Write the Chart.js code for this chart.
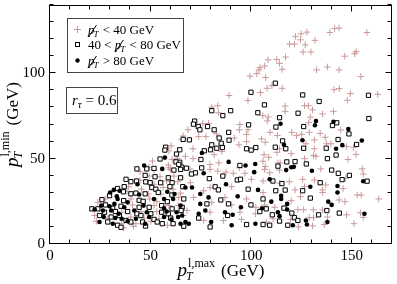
<!DOCTYPE html>
<html><head><meta charset="utf-8">
<script src="https://cdn.jsdelivr.net/npm/chart.js@4/dist/chart.umd.min.js"></script>
<style>html,body{margin:0;padding:0;background:#fff;}</style>
</head><body>
<canvas id="c" width="397" height="284"></canvas>
<script>
// missing pT < 40 GeV (pink crosses): [pT max, pT min]
const lowMet = [
[108.4,107.9],[112.7,108.1],[114.1,105.8],[115.4,102.3],[104.4,103.3],[103.8,102],[106.7,104.3],[102.8,99.8],[99.4,98.3],[107.2,97.5],
[110.3,92.7],[107.9,91.2],[115.4,91.2],[104.6,88.7],[89,87],[98.4,84.1],[122,121.6],[124.8,123.1],[127.7,124.1],[124.5,119.6],
[119.1,117.1],[121.5,117.1],[126.9,116.6],[131.7,119.3],[139.1,123.9],[141.5,126.2],[143.7,126.5],[157.5,123.9],[125.8,112.5],[129.7,112.5],
[117.1,109.5],[146.5,110],[151.4,111.5],[152.2,112.7],[137.9,103.7],[132.5,102],[143.7,102],[154.5,98.1],[141.2,90.4],[143.8,91],
[149.3,88.1],[162.9,87.7],[147.8,84.2],
[83.4,81],[80.4,80.2],[83.7,76.9],[105.8,75.2],[108.5,74.4],[108,72.1],[68.6,66.9],[76,70.6],[78.8,70.6],[82.8,64.5],[94.4,70],
[98.4,66.9],[94.1,66.9],[109.4,65.4],[113,63.6],[73.9,62.9],[77.5,62.9],[97.7,64.2],[97.7,60],[105.1,61.6],[91.6,62.1],
[93.9,58.1],[71.1,55.8],[107,59.6],[71.1,50],[67.3,51.4],[81.6,52.3],[85.4,54.2],[106.4,52.3],[108.7,50.8],[112.8,53.7],
[83.9,47.5],[79.5,46.6],[105.9,48.5],[107,45.4],[113.3,47.5],[69.6,44],
[126.5,81],[128.4,81],[116.9,80.8],[116.9,77.7],[130.5,78.6],[135.5,76.2],[140.9,77.7],[129.4,74.3],[128.6,71.1],[144.5,66.8],
[120.2,65.4],[122.5,63.5],[125.1,64.2],[128.9,65.4],[134.3,64.8],[136.8,62.5],[150.9,56.7],[147.3,57.1],[114.1,55.8],[131.4,61],
[127.2,58.7],[137.4,58.7],[139.6,58.7],[131.4,55.8],[132.2,51.4],[131,51.9],[152.1,52.5],[119.9,52.9],[148.1,49.5],[126.5,50],
[114.4,47.5],[134.6,44],[155.2,44],
[114.1,43.3],[155.7,41],[147,38.5],[119,36.5],[125.6,37.9],[131.4,37.5],[137.1,34.6],[145.7,32.5],[126.5,33.6],[121.8,31.7],
[135.5,31.7],[135.5,30.2],[152.7,28.7],[154.7,28.7],[163.4,26.4],[124.5,27.7],[143.7,25.8],[146.6,24.8],[119.9,25.4],[135.5,20],
[147.4,17.1],[154.3,18.3],[155.7,15.6],[123.2,20.2],[126.1,20],[130.9,20],[119.6,14.3],[131,15.4],[128.9,15.4],[137.9,15.8],
[123.5,10],[130.5,10.6],[136.3,11.4],[151.1,11.9],
[83.4,42.7],[87.5,42.1],[91.1,41.4],[96.9,41.4],[109.2,41.7],[100.1,37.9],[105.9,36.9],[114.1,35.6],[90.3,33.6],[79.6,33.1],
[76.4,31.2],[71.4,27.3],[87,27.3],[97.7,26.4],[80.4,24.4],[102.3,21.5],[68.1,19.6],[102.1,17.7],[86.2,13.8],[95.2,14.4],
[79.6,43.7],[94.1,44.6],[106.7,43.7],[105.9,30.2],[90.3,22.9],[106.7,22.9],[111.7,21.5],[79.6,18.6],[94.4,18.6],[76.4,13.8],
[107.5,12.9],[110.8,14.8],[69.8,35.9],
[66.2,63.3],[65.4,61.3],[60.2,57.5],[59.1,54.6],[63.2,50.2],[50.9,48.6],[60.7,49.5],[58.8,46.3],[49.3,45],[59.9,43.7],
[44.8,42.3],[51.7,43.3],[59.1,44.6],[49.3,39.8],[54.7,39.4],[61.6,39.8],[44.8,37.3],[51.7,35],[58,36.9],[63.5,36.5],
[39.1,33.5],[45.5,32.1],[56.3,33.1],[61.2,32.1],[38.3,30.8],[48.9,29.3],[55.2,29.3],[64.9,29.8],[27.4,26.4],[40.2,26.4],
[49.6,26.4],[53.1,24.8],[64,27.3],[23.8,24.4],[41,22.9],[51.7,22.5],[59.1,22.5],[63.7,22.5],[35.6,18.6],[45.2,19],
[53.1,19],[22.2,16.7],[28.4,14.8],[40.2,15.8],[46.8,15.2],[54.2,14.8],[66.2,16.7],[23,13.3],[35.6,11.9],[42.7,11.9],
[50.1,13.3],[58.3,11],[36.6,9.5],[41.5,10.4]
];
// 40 < missing pT < 80 GeV (open squares)
const midMet = [
[112,94.2],[99.9,88.9],[125.6,87.3],[158.3,87.1],[133.8,83.5],[106.6,81.5],[80.4,78.1],[89.8,78.1],[85.9,75.2],[103.3,76.9],
[114.1,74],[71.9,72],[71.3,70.2],[73.7,68.8],[74.5,66.9],[78.3,68.8],[81.6,66.9],[88.8,65.4],[98.7,69.8],[112.3,68.5],
[66.2,61.3],[69.3,61],[84.1,62.1],[89,60.8],[85.1,59],[80.4,58.1],[79.8,55.2],[82.9,56.1],[85.7,56.5],[64.5,55.2],
[97.7,55.8],[100,55],[102.3,56.5],[112,56.7],[76.7,54.6],[75,49.5],[64.5,47.9],[94.4,46],[113.3,45.6],[65.5,45],
[67.8,44.4],[75.4,44.6],
[123.3,76.6],[158.5,73.5],[142.5,71],[140.4,69.4],[126.1,68.8],[148.6,64.5],[143.2,61.2],[152.4,58.3],[115.6,60.4],[117.2,55.8],
[137.3,56.1],[126.1,56.1],[142.2,52.1],[137.9,50],[121.8,48.3],[127.4,46.9],[117.7,48.1],[140,43.3],
[143.3,41.4],[148.8,40.2],[145.2,37.7],[157.6,36.8],[115.3,35.4],[134.3,35.9],[116.9,31.6],[125.6,31.2],[129.4,26.9],[137.6,19.6],
[143.8,18.1],[116.3,21],[120.2,18.1],[121.5,15.4],[123.2,13.8],[114.1,13.4],[133.5,17.1],[118.2,11],
[64.9,43.7],[72.3,41.7],[70.3,41],[79.2,38.3],[85.9,39.8],[93.1,37.5],[94.7,37.9],[110.8,36.9],[66,33.6],[82.1,33.5],
[83.7,31.7],[98.5,32.1],[112.2,31.2],[66.5,26.4],[84.9,25.8],[105.9,26.4],[78,23.5],[88.7,23.5],[99.9,22.9],[107.5,20.6],
[88.3,16.7],[104.3,19],[110.5,17.1],[73.9,15.2],[66.5,10.4],[79.6,10],[97.7,11.4],[105.9,11.4],[109.2,11],
[57.5,56.7],[57.1,55],[62.9,52.7],[54.7,49.8],[62.6,48.1],[64,46.6],[51.7,44.3],[43.2,44],[48.1,44],[61.6,43.3],
[47.3,40.2],[52.2,39.4],[58.8,38.8],[64.9,38.8],[37.8,37.9],[40.2,36.5],[43,36.9],[47.6,36.4],[49.8,35.9],[55,35.9],
[60.7,35.9],[36.9,33.6],[50.6,33.1],[52.6,32.1],[59.6,33.6],[33.6,32.5],[36.5,30.6],[40.2,29.4],[42.7,29.8],[47.3,29.4],
[53.8,30.2],[60.6,28.7],[29.6,28.3],[25.8,26],[36.6,25.4],[44.3,25.6],[46.3,25],[58.3,24.8],[27.6,22.9],[31.2,20.9],
[35.3,22.1],[44.3,21.5],[49.3,21.5],[55.5,22.5],[60.7,20.6],[65.7,21.5],[20.8,20.6],[23.8,20.6],[27.1,18.6],[32.5,19],
[38.6,19],[43.2,17.7],[50.1,17.7],[55.5,18.6],[58.8,17.7],[65.2,19.6],[24.6,16.7],[30.4,15.8],[34.5,16.7],[37.8,13.8],
[45.2,16.7],[51.7,14.4],[60,15.2],[28.7,12.9],[33.6,11],[40.2,12.9],[46,12.9],[53.3,12.9],[55.8,11.9],[61.2,11.9],
[35.3,9.8],[47.5,10.5]
];
// missing pT > 80 GeV (filled circles)
const highMet = [
[114.6,70.4],[75.5,53.3],[88.8,48.1],[97.2,46],[102,46.9],[132.2,72],[131.7,69.6],[140.9,71.6],[148.3,67.3],[125.5,60.8],
[155,60.6],[145.3,57.9],[116.3,58.1],[142.2,55.8],[119.9,45],[121.2,45.2],[117.4,43.3],[130.2,42.9],[155.7,36.8],[142.9,34],
[129.4,33.5],[142.9,30.2],[114.9,28.3],[114.9,26.4],[117.9,23.5],[138.3,24.8],[140,22.9],[156.3,17.7],[117.9,20.2],[114.1,16.3],
[127.2,13.8],[137.9,12.9],[120.7,11],[127.7,11.4],
[76.4,41.4],[101.5,42.1],[109.2,37.9],[67.3,33.1],[70.6,33.1],[87.5,35],[74.7,29.3],[103.4,31.7],[78.8,27.3],[93.3,27.9],
[110,24.8],[64.9,22.5],[74.7,23.5],[94.9,21.5],[65.7,16.7],[73.9,17.7],[77.2,19.6],[87,18.6],[90.8,17.1],[105.4,20.9],
[113.3,18.6],[67.3,12.9],[69,11.9],[80.1,12.9],[90.3,11],[102.1,11.9],
[57.1,50.6],[46.8,46],[55.8,44],[43.5,35],[31.7,31.7],[34.6,31.2],[44.3,29],[58.3,30.6],[61.9,29.3],[29.9,30.2],
[33.2,27.9],[33.6,26.4],[38.6,24.4],[51.7,26.4],[56.7,26.4],[61.2,26.4],[25.5,22.5],[29.6,22.1],[32,23.5],[36.9,21.5],
[46.5,22.5],[56.7,20.9],[22.2,20.2],[26.3,19.6],[30.4,19.6],[34.1,17.7],[41.9,19.6],[48.1,18.6],[58,19],[62.9,18.6],
[26.7,15.8],[32.4,15.2],[35.6,14.8],[42.7,14.8],[49.3,15.8],[56.7,15.8],[63.7,15.8],[24.6,12.9],[31.2,11.9],[38.6,13.3],
[47.3,11.9],[60.4,14.3],[64.9,11.9]
];
const xTickVals = [0, 50, 100, 150];
const yTickVals = [0, 50, 100];
const xRange = [0, 170];
const yRange = [0, 140];
const minorStep = 10;
const legendLabels = [
  {pre: '', post: ' < 40 GeV'},
  {pre: '40 < ', post: ' < 80 GeV'},
  {pre: '', post: ' > 80 GeV'}
];
const rTauText = ' = 0.6';

const SERIF = '"Liberation Serif", "DejaVu Serif", serif';
const PINK = '#c99a9a';

function toPts(arr){ return arr.map(([x,y]) => ({x, y})); }
function zeroPad(s){ s.paddingTop = 0; s.paddingBottom = 0; s.paddingLeft = 0; s.paddingRight = 0; }

const decorPlugin = {
  id: 'decor',
  afterDraw(chart){
    const ctx = chart.ctx;
    const a = chart.chartArea;
    const xs = chart.scales.x, ys = chart.scales.y;
    const L = Math.round(a.left) - 0.5, R = Math.round(a.right) - 0.5;
    const T = Math.round(a.top) + 0.5, B = Math.round(a.bottom) - 0.5;
    ctx.save();
    ctx.strokeStyle = '#000';
    ctx.lineWidth = 1;
    ctx.strokeRect(L, T, R - L, B - T);
    ctx.beginPath();
    for (let v = xRange[0]; v <= xRange[1]; v += minorStep){
      const px = Math.round(xs.getPixelForValue(v)) - 0.5;
      const len = xTickVals.includes(v) ? 6 : 4;
      ctx.moveTo(px, B); ctx.lineTo(px, B - len);
      ctx.moveTo(px, T); ctx.lineTo(px, T + len);
    }
    for (let v = yRange[0]; v <= yRange[1]; v += minorStep){
      const py = Math.round(ys.getPixelForValue(v)) - 0.5;
      const len = yTickVals.includes(v) ? 6 : 4;
      ctx.moveTo(L, py); ctx.lineTo(L + len, py);
      ctx.moveTo(R, py); ctx.lineTo(R - len, py);
    }
    ctx.stroke();

    // axis titles
    ctx.fillStyle = '#000';
    ctx.textBaseline = 'alphabetic';
    function title(cx, by, sup){
      const fP = 'italic 19px ' + SERIF, fT = 'italic 12px ' + SERIF, fS = '12px ' + SERIF, fG = '17px ' + SERIF;
      ctx.font = fP; const pw = ctx.measureText('p').width;
      ctx.font = fT; const tw = ctx.measureText('T').width;
      ctx.font = fS; const sw = ctx.measureText(sup).width;
      ctx.font = fG; const gw = ctx.measureText('(GeV)').width;
      const gap = 6;
      const total = pw + Math.max(tw, sw + 1) + gap + gw;
      let x = cx - total / 2;
      ctx.font = fP; ctx.fillText('p', x, by);
      ctx.font = fT; ctx.fillText('T', x + pw - 1, by + 4);
      ctx.font = fS; ctx.fillText(sup, x + pw + 1, by - 9);
      ctx.font = fG; ctx.fillText('(GeV)', x + pw + Math.max(tw, sw + 1) + gap, by);
    }
    title((a.left + a.right) / 2, 276, 'l,max');
    ctx.save();
    ctx.translate(18, (a.top + a.bottom) / 2);
    ctx.rotate(-Math.PI / 2);
    title(0, 0, 'l,min');
    ctx.restore();

    // legend box
    ctx.strokeStyle = '#444';
    ctx.strokeRect(67.5, 18.5, 116, 54);
    const rows = [29, 44, 60];
    const mx = 77;
    ctx.strokeStyle = PINK; ctx.beginPath();
    ctx.moveTo(mx - 3, rows[0] + 0.5); ctx.lineTo(mx + 4, rows[0] + 0.5);
    ctx.moveTo(mx + 0.5, rows[0] - 3); ctx.lineTo(mx + 0.5, rows[0] + 4);
    ctx.stroke();
    ctx.strokeStyle = '#000'; ctx.fillStyle = '#fff';
    ctx.fillRect(mx - 2, rows[1] - 2, 5, 5);
    ctx.strokeRect(mx - 1.5, rows[1] - 1.5, 4, 4);
    ctx.fillStyle = '#000';
    ctx.beginPath(); ctx.arc(mx + 0.5, rows[2] + 0.5, 2.2, 0, Math.PI * 2); ctx.fill();
    const fN = '13px ' + SERIF, fI = 'italic 13px ' + SERIF, fSub = 'italic 9px ' + SERIF;
    legendLabels.forEach((lab, i) => {
      let x = 88; const by = rows[i] + 5;
      ctx.font = fN; ctx.fillText(lab.pre, x, by); x += ctx.measureText(lab.pre).width;
      ctx.font = fI; ctx.fillText('p', x, by); const pw = ctx.measureText('p').width;
      ctx.beginPath(); ctx.lineWidth = 1; ctx.strokeStyle = '#000';
      ctx.moveTo(x + 0.5, by + 3); ctx.lineTo(x + pw + 2, by - 9); ctx.stroke();
      x += pw;
      ctx.font = fSub; ctx.fillText('T', x - 1, by + 3); x += ctx.measureText('T').width;
      ctx.font = fN; ctx.fillText(lab.post, x, by);
    });
    // r_tau box
    ctx.strokeStyle = '#444';
    ctx.strokeRect(66.5, 87.5, 51, 26);
    let x = 72; const by = 105;
    ctx.font = 'italic 15px ' + SERIF; ctx.fillText('r', x, by); x += ctx.measureText('r').width;
    ctx.font = 'italic 11px ' + SERIF; ctx.fillText('τ', x, by + 3); x += ctx.measureText('τ').width;
    ctx.font = '15px ' + SERIF; ctx.fillText(rTauText, x, by);
    ctx.restore();
  }
};

new Chart(document.getElementById('c'), {
  type: 'scatter',
  data: {
    datasets: [
      {label: 'low', data: toPts(lowMet), pointStyle: 'cross', pointRadius: 3.3, borderColor: PINK, backgroundColor: PINK, borderWidth: 1, order: 3},
      {label: 'mid', data: toPts(midMet), pointStyle: 'rect', pointRadius: 3.0, borderColor: '#000', backgroundColor: '#fff', borderWidth: 1, order: 2},
      {label: 'high', data: toPts(highMet), pointStyle: 'circle', pointRadius: 2.3, borderColor: '#000', backgroundColor: '#000', borderWidth: 0, order: 1}
    ]
  },
  options: {
    responsive: false, animation: false, events: [],
    layout: {padding: {top: 1, right: 1, left: 0, bottom: 0}},
    plugins: {legend: {display: false}, tooltip: {enabled: false}},
    scales: {
      x: {
        type: 'linear', min: xRange[0], max: xRange[1],
        afterBuildTicks: s => { s.ticks = xTickVals.map(v => ({value: v})); },
        afterFit: s => { s.height = 40; zeroPad(s); },
        grid: {display: false, drawTicks: false}, border: {display: false},
        ticks: {font: {family: SERIF, size: 15}, color: '#000', padding: 3, maxRotation: 0}
      },
      y: {
        type: 'linear', min: yRange[0], max: yRange[1],
        afterBuildTicks: s => { s.ticks = yTickVals.map(v => ({value: v})); },
        afterFit: s => { s.width = 50; zeroPad(s); },
        grid: {display: false, drawTicks: false}, border: {display: false},
        ticks: {font: {family: SERIF, size: 15}, color: '#000', padding: 5}
      }
    }
  },
  plugins: [decorPlugin]
});
</script>
</body></html>
